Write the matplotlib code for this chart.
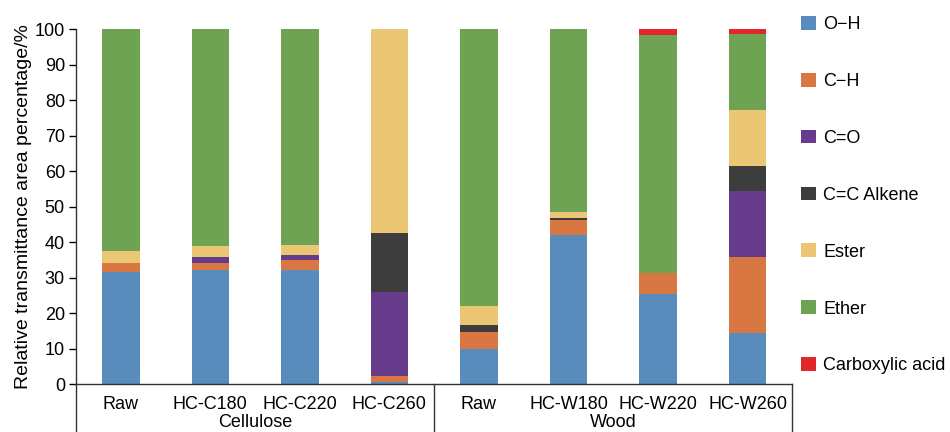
import numpy as np
import matplotlib
matplotlib.use("Agg")
import matplotlib.pyplot as plt
import matplotlib.transforms as mtransforms
from matplotlib.patches import Patch

plt.rcParams['font.family'] = ['Liberation Sans', 'DejaVu Sans']

samples = ["Raw", "HC-C180", "HC-C220", "HC-C260", "Raw", "HC-W180", "HC-W220", "HC-W260"]
groups = ["Cellulose", "Wood"]

# segment heights (%)
oh = [31.8, 32.1, 32.1, 0.8, 9.9, 42.0, 25.6, 14.5]
ch = [2.3, 2.2, 2.9, 1.7, 4.8, 4.3, 5.8, 21.3]
co = [0.0, 1.6, 1.5, 23.6, 0.0, 0.0, 0.0, 18.8]
alkene = [0.0, 0.0, 0.0, 16.6, 2.0, 0.6, 0.0, 6.9]
ester = [3.5, 3.0, 2.7, 57.3, 5.5, 1.8, 0.0, 15.8]
ether = [62.4, 61.1, 60.8, 0.0, 77.8, 51.3, 67.1, 21.3]
carboxylic = [0.0, 0.0, 0.0, 0.0, 0.0, 0.0, 1.5, 1.4]

series = [
    ("O\u2212H", oh, "#578cbc"),
    ("C\u2212H", ch, "#d97742"),
    ("C=O", co, "#673b8c"),
    ("C=C Alkene", alkene, "#3d3d3d"),
    ("Ester", ester, "#ebc674"),
    ("Ether", ether, "#6ea353"),
    ("Carboxylic acid", carboxylic, "#e0282a"),
]

fig = plt.figure(figsize=(9.5, 4.32), dpi=100)
ax = fig.add_axes([0.08, 0.11, 0.754, 0.822])

x = np.arange(len(samples))
bottom = np.zeros(len(samples))
handles = []
for name, vals, col in series:
    vals = np.array(vals)
    ax.bar(x, vals, width=0.42, bottom=bottom, color=col, linewidth=0)
    bottom += vals
    handles.append(Patch(facecolor=col, edgecolor='none', label=name))

ax.set_xlim(-0.5, 7.5)
ax.set_ylim(0, 100)
ax.set_yticks(np.arange(0, 101, 10))
ax.set_xticks(x)
ax.set_xticklabels(samples, fontsize=13)
ax.tick_params(axis='x', length=0, pad=8)
ax.tick_params(axis='y', labelsize=13, length=5, width=1, direction='out', pad=3)
for s in ['top', 'right']:
    ax.spines[s].set_visible(False)
for s in ['left', 'bottom']:
    ax.spines[s].set_color('#333333')
    ax.spines[s].set_linewidth(1)
ax.set_ylabel("Relative transmittance area percentage/%", fontsize=14, labelpad=2)

# group box below the axis
trans = mtransforms.blended_transform_factory(ax.transData, ax.transAxes)
for xv in [-0.5, 3.5, 7.5]:
    ax.plot([xv, xv], [0, -0.2], transform=trans, color='#333333', lw=1, clip_on=False)
ax.text(1.5, -0.107, groups[0], transform=trans, ha='center', va='center', fontsize=13)
ax.text(5.5, -0.107, groups[1], transform=trans, ha='center', va='center', fontsize=13)

fig.legend(handles=handles, loc='upper left', bbox_to_anchor=(0.836, 0.98),
           frameon=False, fontsize=13, handlelength=0.8, handleheight=0.8,
           handletextpad=0.4, labelspacing=2.2, borderaxespad=0)

fig.savefig("out.png", dpi=100)
